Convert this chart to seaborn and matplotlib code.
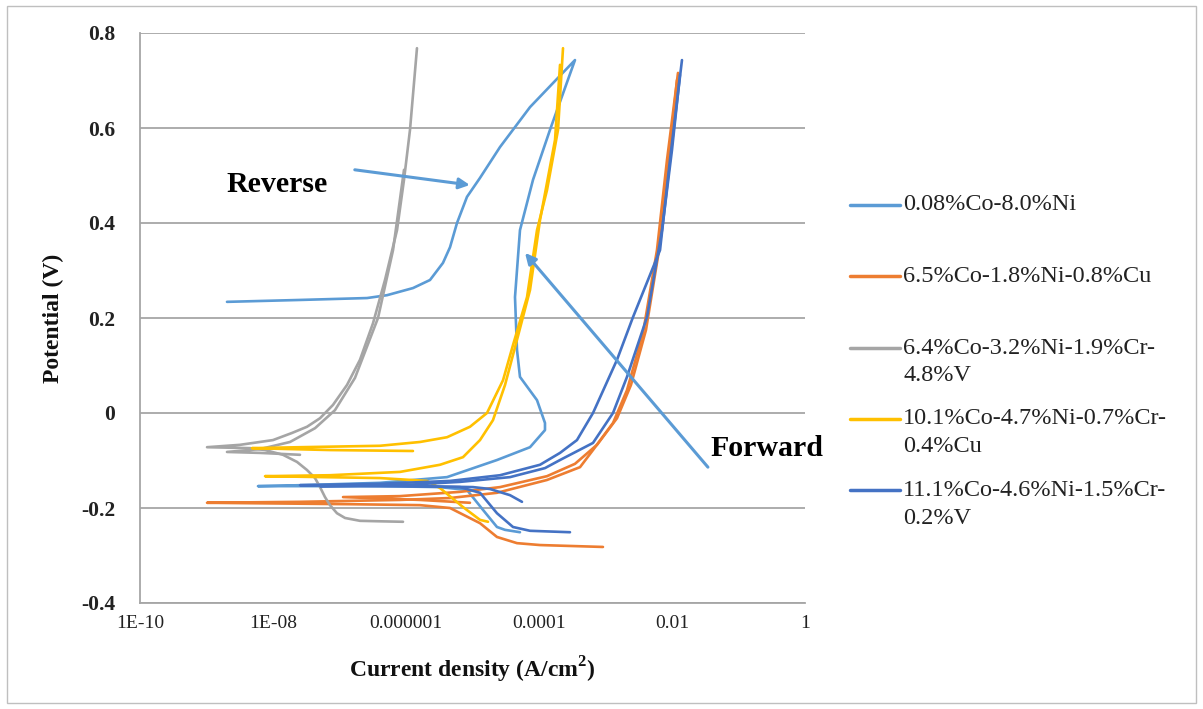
import numpy as np
import pandas as pd
import matplotlib
matplotlib.use("Agg")
import matplotlib.pyplot as plt
import seaborn as sns
from matplotlib.patches import Rectangle
from matplotlib.lines import Line2D

# ---------------- data (log10 of current density in A/cm2, potential in V) ----------------
series_names = ["0.08%Co-8.0%Ni",
                "6.5%Co-1.8%Ni-0.8%Cu",
                "6.4%Co-3.2%Ni-1.9%Cr-4.8%V",
                "10.1%Co-4.7%Ni-0.7%Cr-0.4%Cu",
                "11.1%Co-4.6%Ni-1.5%Cr-0.2%V"]
legend_labels = ["0.08%Co-8.0%Ni",
                 "6.5%Co-1.8%Ni-0.8%Cu",
                 "6.4%Co-3.2%Ni-1.9%Cr-\n4.8%V",
                 "10.1%Co-4.7%Ni-0.7%Cr-\n0.4%Cu",
                 "11.1%Co-4.6%Ni-1.5%Cr-\n0.2%V"]
colors = ["#5B9BD5", "#ED7D31", "#A5A5A5", "#FFC000", "#4472C4"]

# Series 1: cyclic scan (forward then reverse)
s1_logi = [-4.286, -4.511, -4.632, -4.842, -5.083, -5.489, -6.391, -7.594, -8.226,
           -7.594, -6.391, -5.383, -4.632, -4.135, -3.910, -3.910, -4.030, -4.286,
           -4.331, -4.361, -4.286, -4.090, -3.835, -3.459,
           -4.135, -4.586, -4.887, -5.083, -5.233, -5.338, -5.444, -5.639, -5.895,
           -6.286, -6.586, -7.594, -8.692]
s1_e = [-0.251, -0.246, -0.240, -0.204, -0.162, -0.156, -0.154, -0.154, -0.154,
        -0.152, -0.147, -0.135, -0.099, -0.072, -0.036, -0.021, 0.027, 0.076,
        0.133, 0.244, 0.385, 0.491, 0.596, 0.743,
        0.644, 0.560, 0.495, 0.455, 0.400, 0.349, 0.316, 0.280, 0.263,
        0.248, 0.242, 0.238, 0.234]

# Series 2: two runs
s2a_logi = [-3.038, -3.985, -4.331, -4.632, -4.887, -5.338, -5.789, -6.842, -8.992,
            -7.594, -6.090, -5.338, -4.632, -3.880, -3.383, -3.188, -2.887, -2.677,
            -2.436, -2.226, -2.075, -1.910]
s2a_e = [-0.282, -0.278, -0.274, -0.261, -0.232, -0.200, -0.194, -0.192, -0.189,
         -0.187, -0.183, -0.179, -0.168, -0.141, -0.114, -0.078, -0.021, 0.048,
         0.168, 0.343, 0.533, 0.716]
s2b_logi = [-5.038, -5.789, -6.947, -6.090, -5.188, -4.586, -3.880, -3.459, -3.128,
            -2.827, -2.617, -2.391, -2.195, -2.045, -1.925]
s2b_e = [-0.189, -0.183, -0.177, -0.175, -0.166, -0.156, -0.133, -0.107, -0.067,
         -0.011, 0.059, 0.175, 0.343, 0.533, 0.701]

# Series 3: two runs
s3a_logi = [-6.045, -6.391, -6.692, -6.917, -7.038, -7.143, -7.218, -7.293, -7.368,
            -7.489, -7.639, -7.850, -8.120, -8.346, -8.992,
            -8.496, -8.000, -7.714, -7.489, -7.293, -7.098, -6.887, -6.692, -6.496,
            -6.316, -6.135, -6.030, -5.940, -5.835]
s3a_e = [-0.229, -0.228, -0.227, -0.221, -0.211, -0.194, -0.177, -0.156, -0.137,
         -0.120, -0.103, -0.088, -0.078, -0.074, -0.072,
         -0.067, -0.057, -0.042, -0.029, -0.011, 0.017, 0.059, 0.112, 0.189,
         0.280, 0.385, 0.491, 0.596, 0.768]
s3b_logi = [-7.594, -8.195, -8.692, -8.195, -7.744, -7.368, -7.068, -6.767, -6.421, -6.195, -6.030]
s3b_e = [-0.088, -0.084, -0.082, -0.076, -0.061, -0.032, 0.006, 0.074, 0.200, 0.343, 0.512]

# Series 4: two runs
s4a_logi = [-5.895, -7.143, -8.316, -7.594, -6.391, -5.789, -5.383, -5.038, -4.782,
            -4.541, -4.391, -4.180, -4.030, -3.880, -3.714, -3.639]
s4a_e = [-0.080, -0.078, -0.074, -0.072, -0.069, -0.061, -0.051, -0.029, 0.000,
         0.069, 0.143, 0.244, 0.385, 0.469, 0.596, 0.768]
s4b_logi = [-4.767, -4.887, -5.143, -5.489, -5.684, -6.391, -8.120,
            -7.143, -6.090, -5.489, -5.143, -4.887, -4.692, -4.511, -4.331, -4.135,
            -3.985, -3.759, -3.684]
s4b_e = [-0.229, -0.225, -0.198, -0.158, -0.143, -0.137, -0.133,
         -0.131, -0.124, -0.109, -0.093, -0.057, -0.015, 0.059, 0.154, 0.259,
         0.406, 0.575, 0.733]

# Series 5: two runs
s5a_logi = [-4.256, -4.436, -4.737, -4.992, -5.789, -7.594,
            -6.391, -5.338, -4.586, -3.985, -3.684, -3.429, -3.188, -2.827, -2.586,
            -2.180, -2.030, -1.850]
s5a_e = [-0.187, -0.173, -0.160, -0.156, -0.154, -0.152,
         -0.149, -0.143, -0.131, -0.109, -0.084, -0.057, 0.000, 0.112, 0.202,
         0.343, 0.533, 0.743]
s5b_logi = [-3.534, -4.135, -4.391, -4.632, -4.887, -5.188, -6.090, -7.293,
            -6.090, -5.188, -4.436, -3.910, -3.684, -3.188, -2.887, -2.677, -2.376,
            -2.150, -2.000, -1.880]
s5b_e = [-0.251, -0.248, -0.240, -0.211, -0.168, -0.156, -0.154, -0.154,
         -0.152, -0.145, -0.135, -0.116, -0.099, -0.063, 0.000, 0.076, 0.202,
         0.385, 0.554, 0.712]

x_tick_values = [1e-10, 1e-8, 1e-6, 1e-4, 1e-2, 1]
x_tick_labels = ["1E-10", "1E-08", "0.000001", "0.0001", "0.01", "1"]
y_tick_values = [-0.4, -0.2, 0, 0.2, 0.4, 0.6, 0.8]
y_tick_labels = ["-0.4", "-0.2", "0", "0.2", "0.4", "0.6", "0.8"]

runs = [(0, "r1", s1_logi, s1_e),
        (1, "r2a", s2a_logi, s2a_e), (1, "r2b", s2b_logi, s2b_e),
        (2, "r3a", s3a_logi, s3a_e), (2, "r3b", s3b_logi, s3b_e),
        (3, "r4a", s4a_logi, s4a_e), (3, "r4b", s4b_logi, s4b_e),
        (4, "r5a", s5a_logi, s5a_e), (4, "r5b", s5b_logi, s5b_e)]

frames = []
for si, rid, li, ei in runs:
    frames.append(pd.DataFrame({"current": np.power(10.0, np.array(li)),
                                "potential": ei,
                                "series": series_names[si],
                                "run": rid}))
df = pd.concat(frames, ignore_index=True)

# ---------------- figure ----------------
sns.set_theme(style="white")
plt.rcParams['font.family'] = ['Liberation Serif', 'DejaVu Serif']
plt.rcParams['mathtext.fontset'] = 'custom'
plt.rcParams['mathtext.rm'] = 'Liberation Serif'
plt.rcParams['mathtext.bf'] = 'Liberation Serif:bold'

W, H = 1203, 709
fig = plt.figure(figsize=(W / 100, H / 100), dpi=100)
fig.patch.set_facecolor("white")
fig.patches.append(Rectangle((7 / W, 6 / H), (1196 - 7) / W, (703 - 6) / H,
                             transform=fig.transFigure, fill=False,
                             edgecolor="#BFBFBF", lw=1.0))

ax = fig.add_axes([140 / W, 1 - 603 / H, 665 / W, 570 / H])
ax.set_xscale("log")

sns.lineplot(data=df, x="current", y="potential", hue="series", units="run",
             estimator=None, sort=False, palette=dict(zip(series_names, colors)),
             hue_order=series_names, lw=1.9, legend=False, ax=ax)
for ln in ax.get_lines():
    ln.set_solid_joinstyle("round")
    ln.set_solid_capstyle("round")

ax.set_xlim(1e-10, 1)
ax.set_ylim(-0.4, 0.8)
ax.set_xticks(x_tick_values)
ax.set_xticklabels(x_tick_labels, fontsize=14)
ax.minorticks_off()
ax.set_yticks(y_tick_values)
ax.set_yticklabels(y_tick_labels, fontsize=15.5, fontweight="bold")
ax.tick_params(axis="both", which="major", direction="out", length=6, width=1.2,
               color="#A6A6A6", labelcolor="#222222")
ax.tick_params(axis="x", pad=3)
ax.tick_params(axis="y", pad=12)
ax.yaxis.grid(True, color="#A6A6A6", lw=1.3)
ax.xaxis.grid(False)
ax.set_axisbelow(True)
for side in ["top", "right"]:
    ax.spines[side].set_visible(False)
for side in ["left", "bottom"]:
    ax.spines[side].set_color("#A6A6A6")
    ax.spines[side].set_linewidth(1.3)

ax.set_xlabel(r"Current density (A/cm$^{\mathbf{2}}$)", fontsize=17, fontweight="bold",
              labelpad=16, color="#111111")
ax.set_ylabel("Potential (V)", fontsize=17, fontweight="bold", labelpad=12, color="#111111")

# annotations
arrow_kw = dict(arrowstyle="-|>", color="#5B9BD5", lw=2.2, mutation_scale=16,
                shrinkA=0, shrinkB=0)
ax.annotate("", xy=(10 ** -5.04, 0.48), xytext=(10 ** -6.77, 0.512), arrowprops=arrow_kw)
ax.annotate("", xy=(10 ** -4.21, 0.337), xytext=(10 ** -1.46, -0.114), arrowprops=arrow_kw)
ax.text(10 ** -7.94, 0.48, "Reverse", ha="center", va="center", fontsize=21.5,
        fontweight="bold", color="black")
ax.text(10 ** -0.57, -0.074, "Forward", ha="center", va="center", fontsize=21.5,
        fontweight="bold", color="black", clip_on=False)

# legend (Excel-style, first text line aligned with the key line)
leg_y = [205, 276, 348, 419, 490]
for lbl, col, yy in zip(legend_labels, colors, leg_y):
    fig.add_artist(Line2D([850 / W, 900 / W], [1 - yy / H, 1 - yy / H],
                          color=col, lw=2.5, transform=fig.transFigure))
    for k, line in enumerate(lbl.split("\n")):
        fig.text(903 / W, 1 - (yy + 28 * k) / H, line, ha="left", va="center",
                 fontsize=17.5, color="#222222")

fig.savefig("out.png", dpi=100, facecolor="white")
